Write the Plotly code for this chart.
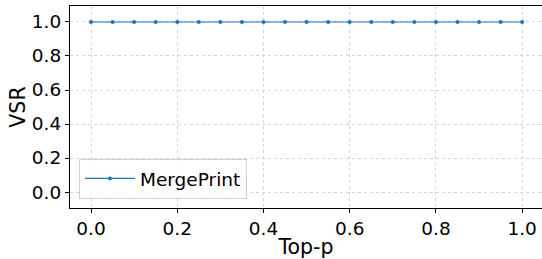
import plotly.graph_objects as go

top_p = [0.0, 0.05, 0.1, 0.15, 0.2, 0.25, 0.3, 0.35, 0.4, 0.45, 0.5,
         0.55, 0.6, 0.65, 0.7, 0.75, 0.8, 0.85, 0.9, 0.95, 1.0]
vsr = [1.0] * len(top_p)
x_ticks = [0.0, 0.2, 0.4, 0.6, 0.8, 1.0]
y_ticks = [0.0, 0.2, 0.4, 0.6, 0.8, 1.0]
tick_text = ["0.0", "0.2", "0.4", "0.6", "0.8", "1.0"]

fig = go.Figure()
fig.add_trace(go.Scatter(
    x=top_p, y=vsr, mode="lines+markers", name="MergePrint",
    line=dict(color="#1f77b4", width=1.2),
    marker=dict(color="#1f77b4", size=4, symbol="circle"),
))

font = "DejaVu Sans, sans-serif"
fig.update_layout(
    width=542, height=259,
    margin=dict(l=70, r=0, t=6, b=51),
    plot_bgcolor="white", paper_bgcolor="white",
    font=dict(family=font, size=18, color="black"),
    showlegend=True,
    legend=dict(
        x=0.019, y=0.045, xanchor="left", yanchor="bottom",
        bgcolor="rgba(255,255,255,0.8)", bordercolor="#d0d0d0", borderwidth=1,
        font=dict(size=18.5, family=font), itemwidth=50,
    ),
)
common = dict(
    showgrid=True, gridcolor="#d5d5d5", griddash="dot", gridwidth=0.8,
    showline=True, linecolor="black", linewidth=1.2,
    ticks="outside", ticklen=4, tickcolor="black", zeroline=False,
    tickfont=dict(size=18.5),
)
fig.update_xaxes(
    range=[-0.0487, 1.046], tickvals=x_ticks, ticktext=tick_text,
    title=dict(text="Top-p", font=dict(size=20.5), standoff=0),
    mirror=True, **common,
)
fig.update_yaxes(
    range=[-0.094, 1.094], tickvals=y_ticks, ticktext=tick_text,
    title=dict(text="VSR", font=dict(size=20.5), standoff=0),
    mirror=False, **common,
)

fig.write_html("out.html", config={"displayModeBar": False},
               post_script="document.body.style.margin='0';document.body.style.padding='0';")
